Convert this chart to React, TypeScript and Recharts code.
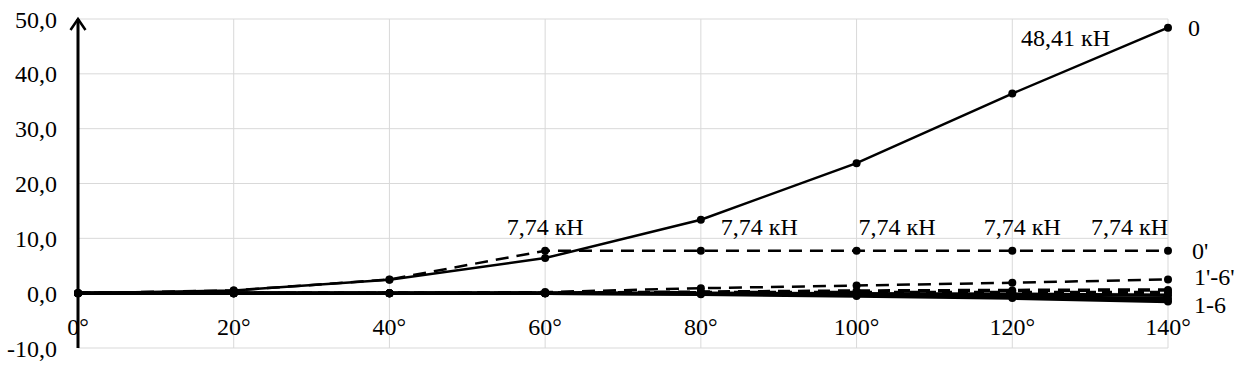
import React from "react";
import {
  LineChart,
  Line,
  XAxis,
  YAxis,
  CartesianGrid,
  LabelList,
} from "recharts";

const angles = ["0°", "20°", "40°", "60°", "80°", "100°", "120°", "140°"];

// 0 - main solid line
const s0 = [0, 0.5, 2.45, 6.4, 13.4, 23.7, 36.4, 48.41];
// 0' - dashed, capped at 7.74 kN
const s0p = [0, 0.5, 2.5, 7.74, 7.74, 7.74, 7.74, 7.74];
// 1'-6' dashed group
const d1 = [0, 0, 0, 0.2, 0.9, 1.4, 1.9, 2.5];
const d2 = [0, 0, 0, 0, 0.2, 0.4, 0.5, 0.6];
const d3 = [0, 0, 0, 0, 0.1, 0.1, 0.1, 0.1];
// 1-6 solid group
const s1 = [0, 0, 0, 0, -0.1, -0.3, -0.6, -1.0];
const s2 = [0, 0, 0, 0, -0.2, -0.5, -0.9, -1.5];
const s3 = [0, 0, 0, 0, 0, -0.1, -0.2, -0.4];

const yTicks = [-10, 0, 10, 20, 30, 40, 50];
const capLabel = "7,74 кН";
const maxLabel = "48,41 кН";

const data = angles.map((a, i) => ({
  angle: a,
  s0: s0[i],
  s0p: s0p[i],
  d1: d1[i],
  d2: d2[i],
  d3: d3[i],
  s1: s1[i],
  s2: s2[i],
  s3: s3[i],
}));

const FONT = "Liberation Serif";
const txt = { fontFamily: FONT, fontSize: 24 };
const fmt = (v: number) => v.toFixed(1).replace(".", ",");

// where each 7,74 label sits relative to its point
const capPos: Record<number, { dx: number; anchor: string }> = {
  3: { dx: 0, anchor: "middle" },
  4: { dx: 20, anchor: "start" },
  5: { dx: 2, anchor: "start" },
  6: { dx: 10, anchor: "middle" },
  7: { dx: 0, anchor: "end" },
};

const endLabel = (name: string, dx: number, dy: number) => (p: any) => {
  if (p.index !== angles.length - 1) return null;
  return (
    <text x={p.x + dx} y={p.y + dy} style={txt} fill="#000">
      {name}
    </text>
  );
};

const capContent = (p: any) => {
  const pos = capPos[p.index];
  if (!pos) return null;
  return (
    <text
      x={p.x + pos.dx}
      y={p.y - 16}
      textAnchor={pos.anchor as any}
      style={txt}
      fill="#000"
    >
      {capLabel}
    </text>
  );
};

const maxContent = (p: any) => {
  if (p.index !== angles.length - 1) return null;
  return (
    <text x={p.x - 58} y={p.y + 18} textAnchor="end" style={txt} fill="#000">
      {maxLabel}
    </text>
  );
};

const XTick = (p: any) => (
  <text x={p.x} y={p.y} dy={-21} textAnchor="middle" style={txt} fill="#000">
    {p.payload.value}
  </text>
);

const dot = { r: 4, fill: "#000", stroke: "none" };

export default function App() {
  return (
    <div style={{ position: "absolute", left: 0, top: 0 }}>
      <svg width={0} height={0} style={{ position: "absolute" }}>
        <defs>
          <marker
            id="yarrow"
            markerUnits="userSpaceOnUse"
            markerWidth={22}
            markerHeight={22}
            refX={19}
            refY={10}
            orient="auto-start-reverse"
            viewBox="0 0 22 20"
          >
            <path d="M8,2.5 L19,10 L8,17.5" fill="none" stroke="#000" strokeWidth={2.5} />
          </marker>
        </defs>
      </svg>
      <LineChart
        width={1256}
        height={373}
        data={data}
        margin={{ top: 19, right: 88, bottom: 0, left: 0 }}
      >
        <CartesianGrid stroke="#d9d9d9" strokeWidth={1} />
        <XAxis
          dataKey="angle"
          height={25}
          axisLine={false}
          tickLine={false}
          tick={<XTick />}
          interval={0}
        />
        <YAxis
          width={78}
          domain={[-10, 50]}
          ticks={yTicks}
          tickFormatter={fmt}
          tickLine={false}
          tickMargin={15}
          axisLine={{ stroke: "#000", strokeWidth: 3, markerStart: "url(#yarrow)" }}
          tick={{ fill: "#000", fontSize: 24, fontFamily: FONT, style: { fontFamily: FONT } }}
        />
        <Line type="linear" dataKey="s1" stroke="#000" strokeWidth={3.5} dot={dot} isAnimationActive={false} />
        <Line type="linear" dataKey="s3" stroke="#000" strokeWidth={3.5} dot={dot} isAnimationActive={false} />
        <Line type="linear" dataKey="s2" stroke="#000" strokeWidth={3.5} dot={dot} isAnimationActive={false}>
          <LabelList content={endLabel("1-6", 26, 12)} />
        </Line>
        <Line type="linear" dataKey="d3" stroke="#000" strokeWidth={3.5} strokeDasharray="10 6" dot={dot} isAnimationActive={false} />
        <Line type="linear" dataKey="d2" stroke="#000" strokeWidth={3.5} strokeDasharray="12 8" dot={dot} isAnimationActive={false} />
        <Line type="linear" dataKey="d1" stroke="#000" strokeWidth={2.5} strokeDasharray="13 8" dot={dot} isAnimationActive={false}>
          <LabelList content={endLabel("1'-6'", 26, 6)} />
        </Line>
        <Line type="linear" dataKey="s0p" stroke="#000" strokeWidth={2.5} strokeDasharray="13 8" dot={dot} isAnimationActive={false}>
          <LabelList content={capContent} />
          <LabelList content={endLabel("0'", 24, 8)} />
        </Line>
        <Line type="linear" dataKey="s0" stroke="#000" strokeWidth={2.5} dot={dot} isAnimationActive={false}>
          <LabelList content={maxContent} />
          <LabelList content={endLabel("0", 20, 8)} />
        </Line>
      </LineChart>
    </div>
  );
}
